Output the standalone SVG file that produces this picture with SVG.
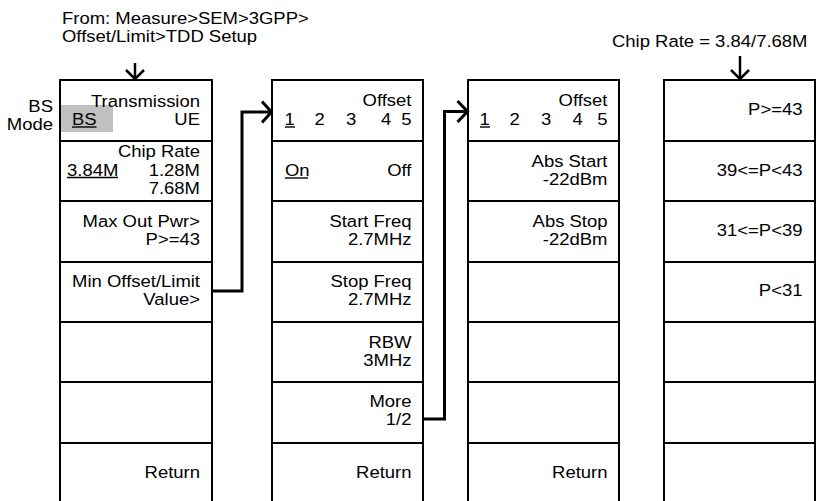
<svg xmlns="http://www.w3.org/2000/svg" width="816" height="501" viewBox="0 0 816 501">
<style>
  .cell { fill: #ffffff; stroke: #000000; stroke-width: 2; }
  text { font-family: "Liberation Sans", Arial, sans-serif; font-size: 16.8px; fill: #000000; }
  .e { text-anchor: end; }
  .ul { stroke: #000000; stroke-width: 1.4; }
  .conn { fill: none; stroke: #000000; stroke-width: 3; stroke-linejoin: miter; }
  .arr { fill: none; stroke: #000000; stroke-width: 2.5; }
</style>
<rect x="0" y="0" width="816" height="501" fill="#ffffff"/>

<g id="header">
  <text transform="translate(62 23.5) scale(1.1 1)">From: Measure&gt;SEM&gt;3GPP&gt;</text>
  <text transform="translate(62 41.5) scale(1.1 1)">Offset/Limit&gt;TDD Setup</text>
  <text transform="translate(612 46.5) scale(1.1 1)">Chip Rate = 3.84/7.68M</text>
  <text class="e" transform="translate(53 112) scale(1.1 1)">BS</text>
  <text class="e" transform="translate(53 130) scale(1.1 1)">Mode</text>
</g>

<g id="menu1">
  <rect class="cell" x="60" y="80" width="152" height="61"/>
  <rect class="cell" x="60" y="141" width="152" height="60"/>
  <rect class="cell" x="60" y="201" width="152" height="61"/>
  <rect class="cell" x="60" y="262" width="152" height="60"/>
  <rect class="cell" x="60" y="322" width="152" height="60"/>
  <rect class="cell" x="60" y="382" width="152" height="61"/>
  <rect class="cell" x="60" y="443" width="152" height="60"/>
  <rect x="61" y="105" width="52" height="27" fill="#c0c0c0"/>
  <text class="e" transform="translate(200 107) scale(1.1 1)">Transmission</text>
  <text class="e" transform="translate(200 125) scale(1.1 1)">UE</text>
  <text transform="translate(72 125) scale(1.1 1)">BS</text>
  <line class="ul" x1="72" y1="127" x2="96.5" y2="127"/>
  <text class="e" transform="translate(200 157) scale(1.1 1)">Chip Rate</text>
  <text transform="translate(67 175.5) scale(1.1 1)">3.84M</text>
  <line class="ul" x1="67" y1="177.5" x2="118" y2="177.5"/>
  <text class="e" transform="translate(200 175.5) scale(1.1 1)">1.28M</text>
  <text class="e" transform="translate(200 193.5) scale(1.1 1)">7.68M</text>
  <text class="e" transform="translate(200 227) scale(1.1 1)">Max Out Pwr&gt;</text>
  <text class="e" transform="translate(200 245) scale(1.1 1)">P&gt;=43</text>
  <text class="e" transform="translate(200 287) scale(1.1 1)">Min Offset/Limit</text>
  <text class="e" transform="translate(200 305) scale(1.1 1)">Value&gt;</text>
  <text class="e" transform="translate(200 478) scale(1.1 1)">Return</text>
</g>

<g id="menu2">
  <rect class="cell" x="272" y="80" width="151" height="61"/>
  <rect class="cell" x="272" y="141" width="151" height="60"/>
  <rect class="cell" x="272" y="201" width="151" height="61"/>
  <rect class="cell" x="272" y="262" width="151" height="60"/>
  <rect class="cell" x="272" y="322" width="151" height="60"/>
  <rect class="cell" x="272" y="382" width="151" height="61"/>
  <rect class="cell" x="272" y="443" width="151" height="60"/>
  <text class="e" transform="translate(411.5 106) scale(1.1 1)">Offset</text>
  <text transform="translate(284.5 125) scale(1.1 1)">1</text>
  <line class="ul" x1="285" y1="127" x2="295" y2="127"/>
  <text transform="translate(314.5 125) scale(1.1 1)">2</text>
  <text transform="translate(346 125) scale(1.1 1)">3</text>
  <text transform="translate(381 125) scale(1.1 1)">4</text>
  <text class="e" transform="translate(411.5 125) scale(1.1 1)">5</text>
  <text transform="translate(285 176) scale(1.1 1)">On</text>
  <line class="ul" x1="285" y1="178" x2="308" y2="178"/>
  <text class="e" transform="translate(411.5 176) scale(1.1 1)">Off</text>
  <text class="e" transform="translate(411.5 227) scale(1.1 1)">Start Freq</text>
  <text class="e" transform="translate(411.5 244.5) scale(1.1 1)">2.7MHz</text>
  <text class="e" transform="translate(411.5 287) scale(1.1 1)">Stop Freq</text>
  <text class="e" transform="translate(411.5 304.5) scale(1.1 1)">2.7MHz</text>
  <text class="e" transform="translate(411.5 348) scale(1.1 1)">RBW</text>
  <text class="e" transform="translate(411.5 366) scale(1.1 1)">3MHz</text>
  <text class="e" transform="translate(411.5 407) scale(1.1 1)">More</text>
  <text class="e" transform="translate(411.5 425) scale(1.1 1)">1/2</text>
  <text class="e" transform="translate(411.5 478) scale(1.1 1)">Return</text>
</g>

<g id="menu3">
  <rect class="cell" x="468" y="80" width="151" height="61"/>
  <rect class="cell" x="468" y="141" width="151" height="60"/>
  <rect class="cell" x="468" y="201" width="151" height="61"/>
  <rect class="cell" x="468" y="262" width="151" height="60"/>
  <rect class="cell" x="468" y="322" width="151" height="60"/>
  <rect class="cell" x="468" y="382" width="151" height="61"/>
  <rect class="cell" x="468" y="443" width="151" height="60"/>
  <text class="e" transform="translate(607.5 106) scale(1.1 1)">Offset</text>
  <text transform="translate(479.5 125) scale(1.1 1)">1</text>
  <line class="ul" x1="480" y1="127" x2="490" y2="127"/>
  <text transform="translate(509.5 125) scale(1.1 1)">2</text>
  <text transform="translate(541 125) scale(1.1 1)">3</text>
  <text transform="translate(572.5 125) scale(1.1 1)">4</text>
  <text class="e" transform="translate(607.5 125) scale(1.1 1)">5</text>
  <text class="e" transform="translate(607.5 166.5) scale(1.1 1)">Abs Start</text>
  <text class="e" transform="translate(607.5 184.5) scale(1.1 1)">-22dBm</text>
  <text class="e" transform="translate(607.5 226.5) scale(1.1 1)">Abs Stop</text>
  <text class="e" transform="translate(607.5 244.5) scale(1.1 1)">-22dBm</text>
  <text class="e" transform="translate(607.5 478) scale(1.1 1)">Return</text>
</g>

<g id="menu4">
  <rect class="cell" x="664" y="80" width="151" height="61"/>
  <rect class="cell" x="664" y="141" width="151" height="60"/>
  <rect class="cell" x="664" y="201" width="151" height="61"/>
  <rect class="cell" x="664" y="262" width="151" height="60"/>
  <rect class="cell" x="664" y="322" width="151" height="60"/>
  <rect class="cell" x="664" y="382" width="151" height="61"/>
  <rect class="cell" x="664" y="443" width="151" height="60"/>
  <text class="e" transform="translate(802.5 115) scale(1.1 1)">P&gt;=43</text>
  <text class="e" transform="translate(802.5 175.5) scale(1.1 1)">39&lt;=P&lt;43</text>
  <text class="e" transform="translate(802.5 235.5) scale(1.1 1)">31&lt;=P&lt;39</text>
  <text class="e" transform="translate(802.5 296) scale(1.1 1)">P&lt;31</text>
</g>

<g id="connectors">
  <line class="arr" x1="135" y1="63" x2="135" y2="79"/>
  <polyline class="arr" points="126,70 135,79 144,70"/>
  <line class="arr" x1="740" y1="56" x2="740" y2="79"/>
  <polyline class="arr" points="731,70 740,79 749,70"/>
  <polyline class="conn" points="212,291 242,291 242,112 270,112"/>
  <polyline class="conn" points="262,101.5 271.5,112 262,122.5"/>
  <polyline class="conn" points="423,419 444.5,419 444.5,111.5 466,111.5"/>
  <polyline class="conn" points="457.5,101 467.5,111.5 457.5,122"/>
</g>
</svg>
